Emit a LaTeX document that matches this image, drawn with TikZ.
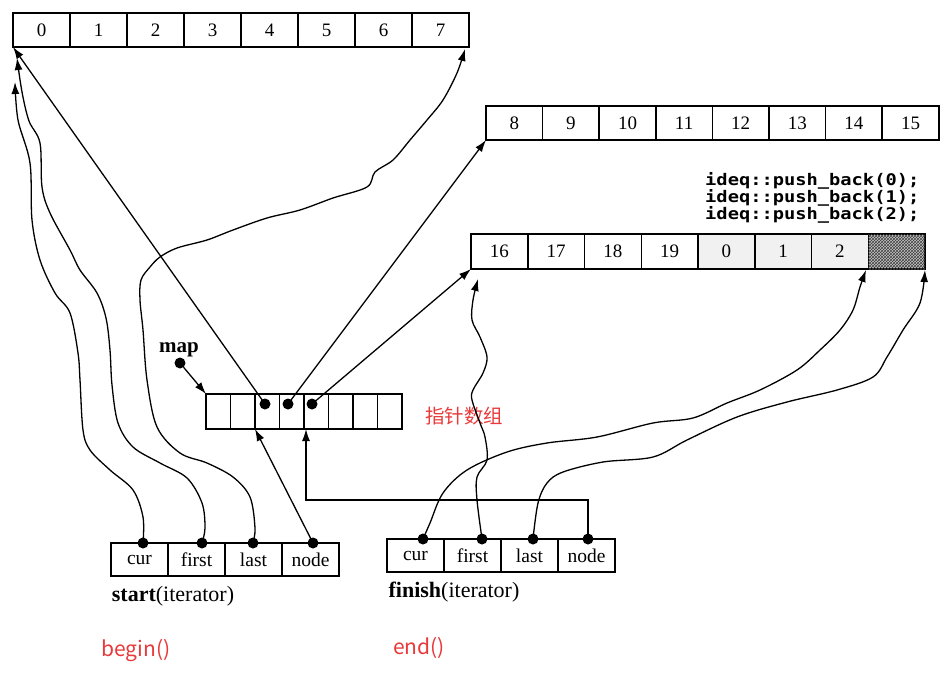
\documentclass[tikz,border=0pt]{standalone}
\usepackage{fontspec}
\setmainfont{Liberation Serif}
\newfontfamily\cjkfont{Noto Sans CJK SC}
\newfontfamily\codefont[FakeStretch=1.17]{DejaVu Sans Mono}
\usetikzlibrary{arrows.meta,patterns}
\definecolor{redtxt}{RGB}{232,58,58}
\begin{document}
\begin{tikzpicture}[x=1pt,y=-1pt,
  cellbase/.style={draw, line width=1.5pt, inner sep=0pt, outer sep=0pt, anchor=north west, font=\fontsize{19}{22}\selectfont},
  tcell/.style={cellbase, minimum width=57pt, minimum height=34pt},
  ucell/.style={cellbase, minimum width=56.6pt, minimum height=34pt},
  bcell/.style={cellbase, minimum width=56.75pt, minimum height=35pt},
  mapcell/.style={cellbase, minimum width=24.5pt, minimum height=35pt},
  itcell/.style={cellbase, minimum width=57pt, minimum height=33pt, font=\fontsize{19.5}{22}\selectfont},
  dot/.style={circle, fill=black, inner sep=0pt, outer sep=0pt, minimum size=11pt},
  conn/.style={line width=1.3pt, -{Latex[length=12pt,width=8pt]}},
  redlab/.style={text=redtxt, font=\cjkfont\fontsize{21}{24}\selectfont},
  codelab/.style={anchor=west, inner sep=0pt, font=\codefont\bfseries\fontsize{16}{18}\selectfont}
]
\useasboundingbox[fill=white] (0,0) rectangle (952,686);

% top buffer
\foreach \i in {0,...,7} \node[tcell] (t\i) at ({13+57*\i},13) {\i};
% second buffer
\foreach \i in {0,...,7} {\pgfmathtruncatemacro\lab{\i+8}\node[ucell] (u\i) at ({486+56.6*\i},106) {\lab};}
% third buffer
\foreach \lab/\fl [count=\i from 0] in {16/white,17/white,18/white,19/white,0/gray!11,1/gray!11,2/gray!11}
  \node[bcell, fill=\fl] (b\i) at ({471+56.75*\i},234) {\lab};
\node[bcell, fill=gray!45, postaction={pattern=crosshatch, pattern color=black!75}] (b7) at ({471+56.75*7},234) {};

% code text
\node[codelab] (c0) at (705,181) {ideq::push\_back(0);};
\node[codelab] (c1) at (705,198) {ideq::push\_back(1);};
\node[codelab] (c2) at (705,215) {ideq::push\_back(2);};

% map
\foreach \i in {0,...,7} \node[mapcell] (m\i) at ({206+24.5*\i},394) {};
\node[font=\bfseries\fontsize{21}{24}\selectfont] (maplab) at (179,350) {map};
\node[dot] (mapdot) at (180,363) {};
\draw[conn] (mapdot) -- (m0.north west);
\node[dot] (md2) at (265,404) {};
\node[dot] (md3) at (288,404) {};
\node[dot] (md4) at (312,404) {};
\node[redlab, font=\cjkfont\fontsize{19.5}{22}\selectfont] (ptrarr) at (464,416) {指针数组};

% iterators
\foreach \lab [count=\i from 0] in {cur,first,last,node}
  \node[itcell] (s\i) at ({111+57*\i},543) {\lab};
\foreach \lab [count=\i from 0] in {cur,first,last,node}
  \node[itcell] (f\i) at ({387+57*\i},539) {\lab};
\node[font=\fontsize{22}{26}\selectfont] (startlab) at (173,596) {\textbf{start}(iterator)};
\node[font=\fontsize{22}{26}\selectfont] (finishlab) at (454,592) {\textbf{finish}(iterator)};
\node[redlab] (beginlab) at (136,651) {begin()};
\node[redlab] (endlab) at (419,648) {end()};

\node[dot] (sd0) at (143,543) {};
\node[dot] (sd1) at (202,543) {};
\node[dot] (sd2) at (253,543) {};
\node[dot] (sd3) at (313,543) {};
\node[dot] (fd0) at (423,539) {};
\node[dot] (fd1) at (482,539) {};
\node[dot] (fd2) at (533,539) {};
\node[dot] (fd3) at (588,539) {};

% targets
\coordinate (tcur) at (15,82);
\coordinate (tfirst) at (17,58);
\coordinate (tlast) at (465,49);
\coordinate (bfirst) at (478,279);
\coordinate (bcur) at (866,270);
\coordinate (blast) at (925,270);
\coordinate (fmap) at (306,429);
\coordinate (fcorner) at (306,500);

% map pointers
\draw[conn] (md2.center) -- (t0.south west);
\draw[conn] (md3.center) -- (u0.south west);
\draw[conn] (md4.center) -- (b0.south west);
\draw[conn] (sd3.center) -- (m2.south west);
\draw[conn] (fd3.center) |- (fcorner) -- (fmap);

% start curves
\draw[conn] plot[smooth, tension=0.55] coordinates {(sd0.center) (143,517) (133,490) (110,470) (90,450) (83,430) (80,380) (78,353) (70,313) (55,293) (40,260) (32,220) (30,163) (18,120) (tcur)};
\draw[conn] plot[smooth, tension=0.55] coordinates {(sd1.center) (205,528) (202,503) (187,478) (160,463) (133,447) (118,423) (112,385) (110,350) (106,318) (97,293) (80,270) (70,250) (50,213) (42,187) (40,143) (29,121) (22,92) (tfirst)};
\draw[conn] plot[smooth, tension=0.55] coordinates {(sd2.center) (255,528) (250,497) (233,477) (207,463) (180,453) (157,427) (147,380) (143,330) (140,300) (141,280) (150,267) (160,257) (177,248) (207,240) (233,230) (267,218) (300,210) (333,198) (367,187) (375,172) (393,160) (410,140) (427,120) (443,100) (457,73) (tlast)};

% finish curves
\draw[conn] plot[smooth, tension=0.55] coordinates {(fd0.center) (430,523) (443,493) (467,470) (507,452) (547,443) (597,437) (653,423) (693,418) (727,403) (760,390) (797,370) (820,350) (840,330) (853,310) (860,287) (bcur)};
\draw[conn] plot[smooth, tension=0.55] coordinates {(fd1.center) (477,500) (477,477) (487,460) (485,437) (480,423) (472,400) (473,390) (483,373) (487,357) (480,337) (472,320) (473,300) (bfirst)};
\draw[conn] plot[smooth, tension=0.55] coordinates {(fd2.center) (538,503) (547,483) (563,472) (603,462) (653,457) (687,440) (737,417) (787,402) (837,390) (873,377) (887,357) (903,330) (920,303) (blast)};
\end{tikzpicture}
\end{document}
